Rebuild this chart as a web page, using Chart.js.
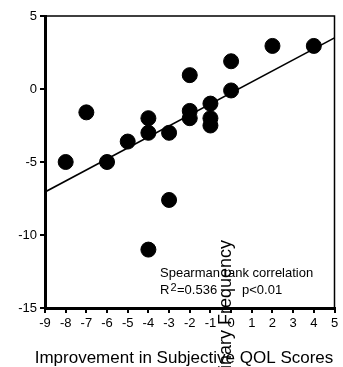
<!DOCTYPE html>
<html>
<head>
<meta charset="utf-8">
<script src="https://cdn.jsdelivr.net/npm/chart.js@4"></script>
<style>
  html, body { margin: 0; padding: 0; background: #fff; }
  #wrap { width: 343px; height: 367px; }
</style>
</head>
<body>
<div id="wrap"><canvas id="qolChart"></canvas></div>
<script>
// Datos
const improvementX = [-8, -7, -6, -5, -4, -4, -3, -3, -4, -2, -2, -2, -1, -1, -1, 0, 0, 2, 4];
const frequencyY = [-5, -1.6, -5, -3.6, -2, -3, -3, -7.6, -11, 0.95, -1.5, -2, -1, -2, -2.5, 1.9, -0.1, 2.95, 2.95];
const fitX = [-9, 5];
const fitY = [-7.05, 3.5];
const xTickRange = [-9, 5];
const yTickRange = [-15, 5];
const xTitle = 'Improvement in Subjective QOL Scores';
const yTitle = 'Urinary Frequency';

const FONT = "'Liberation Sans', Arial, sans-serif";

// Marco fino arriba y a la derecha + textos de la anotación
const framePlugin = {
    id: 'frame',
    afterDraw(chart) {
        const { ctx, chartArea: a } = chart;
        ctx.save();
        ctx.strokeStyle = '#000';
        ctx.lineWidth = 1.5;
        ctx.beginPath();
        ctx.moveTo(a.left, a.top);
        ctx.lineTo(a.right, a.top);
        ctx.lineTo(a.right, a.bottom);
        ctx.stroke();

        ctx.fillStyle = '#000';
        ctx.textBaseline = 'alphabetic';
        ctx.textAlign = 'left';
        ctx.font = '13px ' + FONT;
        ctx.fillText('Spearman rank correlation', 160, 276.5);
        ctx.fillText('R', 160, 294);
        ctx.fillText('=0.536', 177, 294);
        ctx.fillText('p<0.01', 242, 294);
        ctx.font = '11px ' + FONT;
        ctx.fillText('2', 170.5, 291);

        // título del eje x (un poco a la izquierda del centro, como el original)
        ctx.font = '17px ' + FONT;
        ctx.textAlign = 'center';
        ctx.fillText(xTitle, 184, 363);

        // título del eje y mal colocado en el original
        ctx.translate(226, 240);
        ctx.rotate(-Math.PI / 2);
        ctx.font = '18px ' + FONT;
        ctx.textAlign = 'right';
        ctx.textBaseline = 'middle';
        ctx.fillText(yTitle, 0, 0);
        ctx.restore();
    }
};

const ctx = document.getElementById('qolChart').getContext('2d');
new Chart(ctx, {
    type: 'scatter',
    data: {
        datasets: [{
            type: 'line',
            data: fitX.map((x, i) => ({ x: x, y: fitY[i] })),
            borderColor: '#000',
            borderWidth: 1.6,
            pointRadius: 0,
            fill: false
        }, {
            data: improvementX.map((x, i) => ({ x: x, y: frequencyY[i] })),
            backgroundColor: '#000',
            borderColor: '#000',
            pointRadius: 7.5,
            pointHoverRadius: 7.5
        }]
    },
    options: {
        responsive: true,
        maintainAspectRatio: false,
        animation: false,
        events: [],
        layout: { padding: { top: 16, right: 7, left: 0, bottom: 0 } },
        plugins: {
            legend: { display: false },
            tooltip: { enabled: false }
        },
        scales: {
            x: {
                type: 'linear',
                min: xTickRange[0],
                max: xTickRange[1],
                ticks: { stepSize: 1, color: '#000', padding: 3, font: { family: FONT, size: 13 } },
                grid: { drawOnChartArea: false, tickLength: 5, lineWidth: 2, color: '#000' },
                border: { color: '#000', width: 3 },
                afterFit: s => { s.height = 59; }
            },
            y: {
                min: yTickRange[0],
                max: yTickRange[1],
                ticks: { stepSize: 5, color: '#000', padding: 3, font: { family: FONT, size: 13 } },
                grid: { drawOnChartArea: false, tickLength: 5, lineWidth: 2, color: '#000' },
                border: { color: '#000', width: 3 },
                afterFit: s => { s.width = 45; }
            }
        }
    },
    plugins: [framePlugin]
});
</script>
</body>
</html>
